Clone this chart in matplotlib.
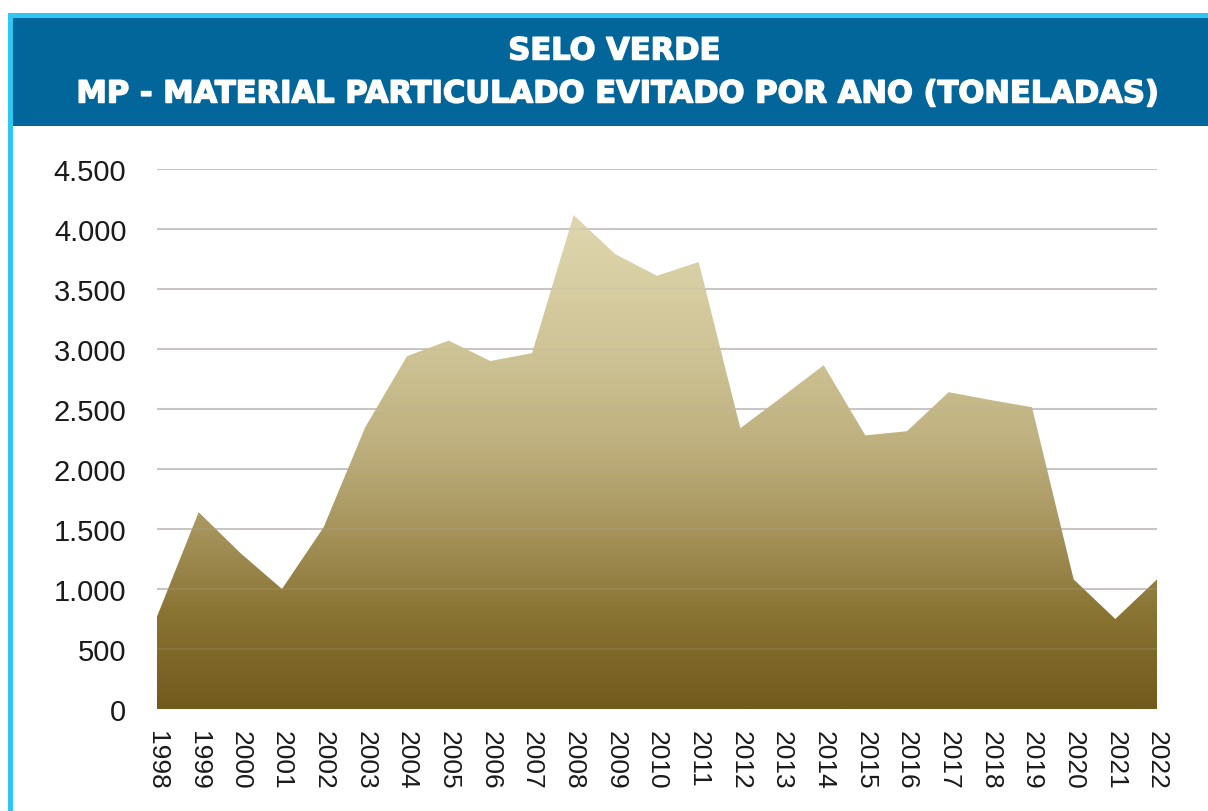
import matplotlib
matplotlib.use("Agg")
import matplotlib.pyplot as plt
import matplotlib.patheffects as pe
import numpy as np
from matplotlib.colors import LinearSegmentedColormap
from matplotlib.patches import Rectangle, Polygon

years = list(range(1998, 2023))
values = [770, 1640, 1300, 1000, 1515, 2350, 2940, 3070, 2900, 2965,
          4115, 3790, 3610, 3725, 2340, 2600, 2865, 2280, 2315, 2640,
          2575, 2515, 1080, 750, 1080]
yticks = [0, 500, 1000, 1500, 2000, 2500, 3000, 3500, 4000, 4500]
ytick_labels = ["0", "500", "1.000", "1.500", "2.000", "2.500", "3.000", "3.500", "4.000", "4.500"]
title1 = "SELO VERDE"
title2 = "MP - MATERIAL PARTICULADO EVITADO POR ANO (TONELADAS)"

W, H = 1208, 812
fig = plt.figure(figsize=(W / 100, H / 100), dpi=100)
fig.patch.set_facecolor("white")

# frame decorations
fig.add_artist(Rectangle((8 / W, 0), (W - 8) / W, (H - 14) / H, transform=fig.transFigure,
                         facecolor="#2EC6F2", edgecolor="none", zorder=0))
fig.add_artist(Rectangle((13 / W, 0), (W - 13) / W, (H - 19) / H, transform=fig.transFigure,
                         facecolor="white", edgecolor="none", zorder=0.5))
fig.add_artist(Rectangle((13 / W, (H - 127) / H), (W - 13) / W, 108 / H, transform=fig.transFigure,
                         facecolor="#03669A", edgecolor="none", zorder=1))
stroke = [pe.withStroke(linewidth=1.1, foreground="white")]
fig.text(614 / W, 1 - 52 / H, title1, color="white", fontsize=22, fontweight="bold",
         family="DejaVu Sans", ha="center", va="center", zorder=2, path_effects=stroke)
fig.text(616 / W, 1 - 95 / H, title2, color="white", fontsize=22, fontweight="bold",
         family="DejaVu Sans", ha="center", va="center", zorder=2, path_effects=stroke)

ax = fig.add_axes([157 / W, 102 / H, 1000 / W, 540 / H])
ax.set_zorder(5)
ax.set_facecolor("none")
for s in ax.spines.values():
    s.set_visible(False)

# gradient fill
stops = [(0.0, (113, 90, 28)), (800 / 4200, (138, 116, 52)), (1500 / 4200, (166, 148, 92)),
         (2200 / 4200, (190, 176, 126)), (3000 / 4200, (207, 196, 150)), (1.0, (224, 216, 176))]
cmap = LinearSegmentedColormap.from_list("gold", [(p, tuple(c / 255 for c in col)) for p, col in stops])
grad = np.linspace(0, 1, 256).reshape(-1, 1)
im = ax.imshow(grad, cmap=cmap, aspect="auto", origin="lower",
               extent=[years[0], years[-1], 0, 4200], zorder=2)
poly = ax.fill_between(years, values, 0, facecolor="none", edgecolor="none")
path = poly.get_paths()[0]
clip = Polygon(path.vertices, closed=True, transform=ax.transData, facecolor="none", edgecolor="none")
ax.add_patch(clip)
im.set_clip_path(clip)
ax.set_xlim(years[0], years[-1])
ax.set_ylim(0, 4500)

# gridlines
for v in yticks[1:]:
    ax.axhline(v, color="#cccaca", lw=1.5, zorder=1)
    ax.axhline(v, color="#b9aeaa", lw=1.2, alpha=0.2, zorder=3)

ax.set_yticks(yticks)
ax.set_yticklabels(ytick_labels, fontsize=21, family="Liberation Sans", color="#1a1a1a")
ax.set_xticks(years)
ax.set_xticklabels([str(y) for y in years], rotation=270, fontsize=19,
                   family="Liberation Sans", color="#1a1a1a")
ax.tick_params(axis="y", length=0, pad=22)
ax.tick_params(axis="x", length=0, pad=15)

fig.savefig("out.png", dpi=100, facecolor="white")
